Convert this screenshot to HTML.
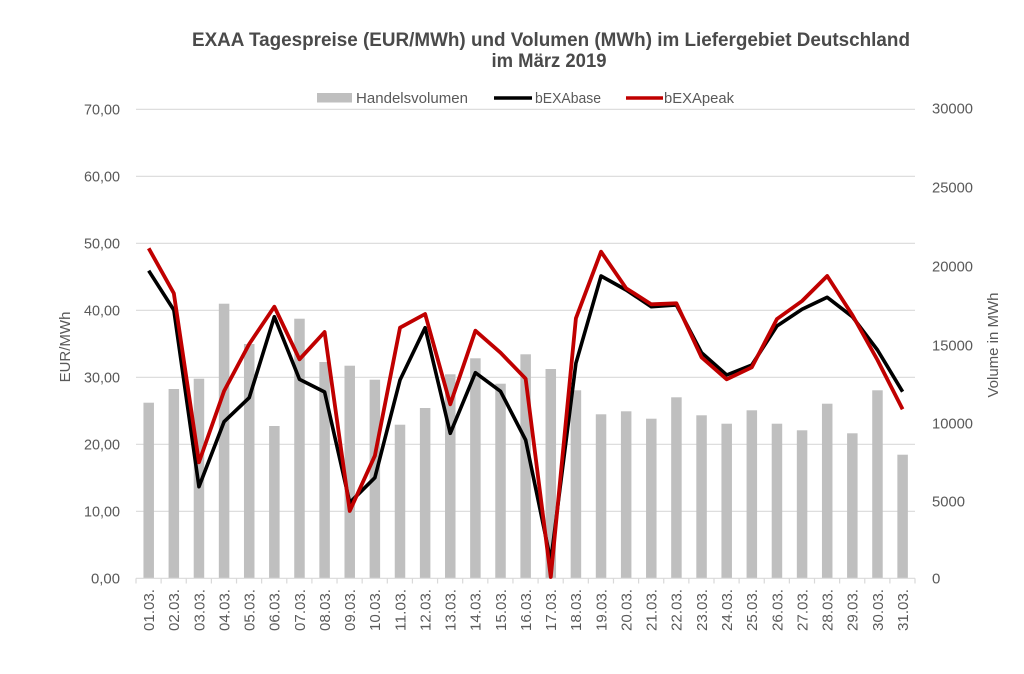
<!DOCTYPE html>
<html><head><meta charset="utf-8"><style>
html,body{margin:0;padding:0;background:#fff;}
svg{display:block;}
text{font-family:"Liberation Sans",sans-serif;fill:#595959;}
</style></head><body>
<svg width="1024" height="674" viewBox="0 0 1024 674" xmlns="http://www.w3.org/2000/svg">
<rect width="1024" height="674" fill="#fff"/>
<text x="551" y="46" text-anchor="middle" font-size="19" font-weight="bold" style="fill:#4a4a4a" textLength="718" lengthAdjust="spacingAndGlyphs">EXAA Tagespreise (EUR/MWh) und Volumen (MWh) im Liefergebiet Deutschland</text>
<text x="549" y="67" text-anchor="middle" font-size="19" font-weight="bold" style="fill:#4a4a4a" textLength="115" lengthAdjust="spacingAndGlyphs">im März 2019</text>
<!-- legend -->
<rect x="317" y="93" width="35" height="9.5" fill="#bfbfbf"/>
<text x="356" y="103" font-size="15" textLength="112" lengthAdjust="spacingAndGlyphs">Handelsvolumen</text>
<line x1="494" y1="98" x2="532" y2="98" stroke="#000" stroke-width="3.5"/>
<text x="535" y="103" font-size="15" textLength="66" lengthAdjust="spacingAndGlyphs">bEXAbase</text>
<line x1="626" y1="98" x2="663" y2="98" stroke="#c00000" stroke-width="3.5"/>
<text x="664" y="103" font-size="15" textLength="70" lengthAdjust="spacingAndGlyphs">bEXApeak</text>
<!-- gridlines -->
<g stroke="#d9d9d9" stroke-width="1.2">
<line x1="136" y1="109.3" x2="915" y2="109.3"/>
<line x1="136" y1="176.3" x2="915" y2="176.3"/>
<line x1="136" y1="243.3" x2="915" y2="243.3"/>
<line x1="136" y1="310.3" x2="915" y2="310.3"/>
<line x1="136" y1="377.3" x2="915" y2="377.3"/>
<line x1="136" y1="444.3" x2="915" y2="444.3"/>
<line x1="136" y1="511.3" x2="915" y2="511.3"/>
</g>
<!-- left axis labels -->
<g font-size="15" text-anchor="end">
<text x="120" y="114.5" textLength="36" lengthAdjust="spacingAndGlyphs">70,00</text>
<text x="120" y="181.5" textLength="36" lengthAdjust="spacingAndGlyphs">60,00</text>
<text x="120" y="248.5" textLength="36" lengthAdjust="spacingAndGlyphs">50,00</text>
<text x="120" y="315.5" textLength="36" lengthAdjust="spacingAndGlyphs">40,00</text>
<text x="120" y="382.5" textLength="36" lengthAdjust="spacingAndGlyphs">30,00</text>
<text x="120" y="449.5" textLength="36" lengthAdjust="spacingAndGlyphs">20,00</text>
<text x="120" y="516.5" textLength="36" lengthAdjust="spacingAndGlyphs">10,00</text>
<text x="120" y="583.5" textLength="29" lengthAdjust="spacingAndGlyphs">0,00</text>
</g>
<text transform="translate(70,347) rotate(-90)" text-anchor="middle" font-size="15">EUR/MWh</text>
<!-- right axis labels -->
<g font-size="15">
<text x="932" y="113.5" textLength="41" lengthAdjust="spacingAndGlyphs">30000</text>
<text x="932" y="192.5" textLength="41" lengthAdjust="spacingAndGlyphs">25000</text>
<text x="932" y="271.5" textLength="41" lengthAdjust="spacingAndGlyphs">20000</text>
<text x="932" y="350.5" textLength="41" lengthAdjust="spacingAndGlyphs">15000</text>
<text x="932" y="428.5" textLength="41" lengthAdjust="spacingAndGlyphs">10000</text>
<text x="932" y="506.5" textLength="33" lengthAdjust="spacingAndGlyphs">5000</text>
<text x="932" y="583.5">0</text>
</g>
<text transform="translate(998,345) rotate(-90)" text-anchor="middle" font-size="15">Volume in MWh</text>
<g id="bars" fill="#bfbfbf"></g>
<g id="axis" stroke="#d9d9d9" stroke-width="1.2"></g>
<g id="xl" font-size="15" text-anchor="end"></g>
<polyline id="base" fill="none" stroke="#000" stroke-width="3.6" stroke-linejoin="round"/>
<polyline id="peak" fill="none" stroke="#c00000" stroke-width="3.8" stroke-linejoin="round"/>
</svg>
<script>
var tops=[402.7,389,378.7,303.7,344,426,318.7,362,365.7,379.7,424.7,408,374.3,358.3,383.7,354.3,369,390.3,414.3,411.3,418.7,397.3,415.3,423.7,410.3,423.7,430.3,403.7,433.3,390.3,454.7];
var blk=[270.7,310,486.7,421.7,397.7,316.7,379.3,392,502.7,477.7,380,327.7,433.3,372.7,391.3,440,561,363.3,276,290,306.7,305,352.7,375,365,326,309.3,297.3,316.7,350,391.7];
var red=[248.3,293.3,462.3,391,344,306.7,359.3,332,511,455.7,327.7,314,404.3,330.7,352.7,378.7,577,318.3,251.7,288.3,304.3,303.3,357.3,379.3,367.3,319,301,276,315,360,409.3];
var ns="http://www.w3.org/2000/svg";
var bars=document.getElementById('bars'),ax=document.getElementById('axis'),xl=document.getElementById('xl');
var bp=[],rp=[];
function mk(t,a,p){var e=document.createElementNS(ns,t);for(var k in a)e.setAttribute(k,a[k]);p.appendChild(e);return e;}
mk('line',{x1:136,y1:578.3,x2:915,y2:578.3},ax);
for(var i=0;i<31;i++){
 var cx=148.7+i*25.13;
 mk('rect',{x:(cx-5.25).toFixed(2),y:tops[i],width:10.5,height:(578.3-tops[i]).toFixed(2)},bars);
 var bx=136+i*25.13;
 mk('line',{x1:bx.toFixed(2),y1:578.3,x2:bx.toFixed(2),y2:583.5},ax);
 var d=(i+1<10?'0':'')+(i+1)+'.03.';
 var t=mk('text',{transform:'translate('+(cx+5.3).toFixed(2)+',589) rotate(-90)',textLength:42,lengthAdjust:'spacingAndGlyphs'},xl);
 t.textContent=d;
 bp.push(cx.toFixed(2)+','+blk[i]);rp.push(cx.toFixed(2)+','+red[i]);
}
mk('line',{x1:915,y1:578.3,x2:915,y2:583.5},ax);
document.getElementById('base').setAttribute('points',bp.join(' '));
document.getElementById('peak').setAttribute('points',rp.join(' '));
</script>
</body></html>
